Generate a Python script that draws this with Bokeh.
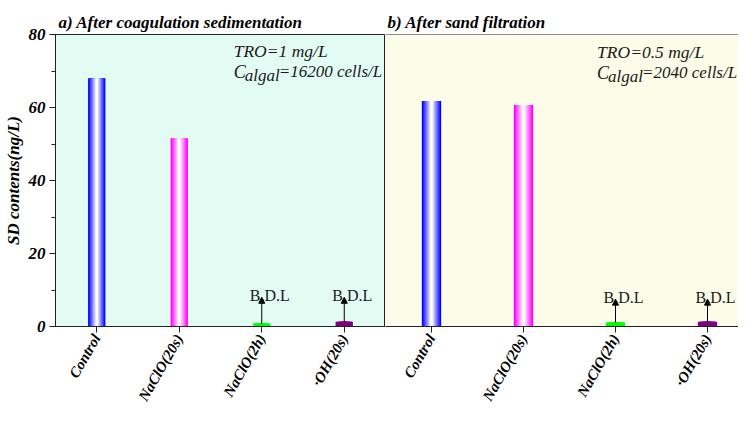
import math
from bokeh.plotting import figure
from bokeh.layouts import row
from bokeh.models import (Range1d, FixedTicker, SingleIntervalTicker, Arrow, NormalHead,
                          Label, Span, ColumnDataSource)
from bokeh.core.properties import value
from bokeh.embed import file_html
from bokeh.resources import INLINE

# ---------------- data ----------------
categories = ["Control", "NaClO(20s)", "NaClO(2h)", "·OH(20s)"]
coag_values = [68.0, 51.6, 0.8, 1.3]      # a) After coagulation sedimentation
sand_values = [61.8, 60.7, 1.1, 1.3]      # b) After sand filtration
bdl_flags = [False, False, True, True]    # below detection limit
bdl_label = "B.D.L"
y_max = 80
y_tick_interval = 20

titles = ["a) After coagulation sedimentation", "b) After sand filtration"]
tro_texts = ["TRO=1 mg/L", "TRO=0.5 mg/L"]
algal_texts = ["=16200 cells/L", "=2040 cells/L"]

# ---------------- layout / style ----------------
fig_widths = [385, 353]
cat_px = [82.5, 92.0]               # pixel spacing of categories in each panel
edge_colors = ["#0000ff", "#ff00ff", "#00ff00", "#800080"]
center_colors = ["#ffffff", "#ffffff", "#00ff00", "#800080"]
bg_colors = ["#e2fcf4", "#fcfce8"]
SERIF = "Liberation Serif"
AXIS_COLOR = "#222222"
TEXT_COLOR = "#1a1a1a"
BAR_W = 0.21
note_x = [2.16, 2.30]
note_y = [(75.5, 69.8), (75.2, 69.5)]
arrow_tip = [8.0, 7.5]


def hex2rgb(h):
    h = h.lstrip("#")
    return tuple(int(h[i:i + 2], 16) for i in (0, 2, 4))


def mix(c1, c2, t):
    a, b = hex2rgb(c1), hex2rgb(c2)
    return "#%02x%02x%02x" % tuple(int(round(a[i] + (b[i] - a[i]) * t)) for i in range(3))


def make_panel(idx, values):
    show_y = idx == 0
    left = 55 if show_y else 0
    x_end = (fig_widths[idx] - left) / cat_px[idx]
    p = figure(width=fig_widths[idx], height=410, x_range=Range1d(0, x_end),
               y_range=Range1d(0, y_max), output_backend="svg", toolbar_location=None,
               min_border_left=left, min_border_right=0, min_border_top=34, min_border_bottom=77)
    p.title.text = titles[idx]
    p.title.text_font = SERIF
    p.title.text_font_style = "bold italic"
    p.title.text_font_size = "17px"
    p.title.text_color = "black"
    p.title.offset = 3 if show_y else 2
    p.title.standoff = 5
    p.border_fill_color = "white"
    p.background_fill_color = bg_colors[idx]
    p.grid.visible = False
    if show_y:
        p.outline_line_color = AXIS_COLOR
        p.outline_line_width = 1
    else:
        p.outline_line_color = None
        p.add_layout(Span(location=y_max, dimension="width", line_color=AXIS_COLOR, line_width=1))

    xs = [i + 0.5 for i in range(len(categories))]

    # gradient bars (layers narrowing toward the centre colour)
    n = 8
    for k in range(n):
        t = k / (n - 1)
        src = ColumnDataSource(dict(x=xs, top=values,
                                    color=[mix(e, c, t) for e, c in zip(edge_colors, center_colors)]))
        p.vbar(x="x", top="top", bottom=0, width=BAR_W * (1 - k / n), source=src,
               fill_color="color", line_color=None)

    # B.D.L arrows
    bx = [x for x, f in zip(xs, bdl_flags) if f]
    by = [v for v, f in zip(values, bdl_flags) if f]
    tip = arrow_tip[idx]
    asrc = ColumnDataSource(dict(x=bx, y0=by, y1=[tip] * len(bx)))
    p.add_layout(Arrow(end=NormalHead(size=6, fill_color="black", line_color="black"),
                       x_start="x", y_start="y0", x_end="x", y_end="y1",
                       line_color="black", line_width=1, source=asrc))
    p.text(x=bx, y=[tip + 0.5] * len(bx), text=[bdl_label] * len(bx),
           text_font=value(SERIF), text_font_size="16px", text_align="center",
           text_baseline="alphabetic", x_offset=8, text_color=TEXT_COLOR)

    # condition annotations
    tx = note_x[idx]
    y1, y2 = note_y[idx]
    common = dict(text_font=SERIF, text_font_style="italic", text_color=TEXT_COLOR,
                  text_baseline="alphabetic")
    p.add_layout(Label(x=tx, y=y1, text=tro_texts[idx], text_font_size="17.5px", **common))
    p.add_layout(Label(x=tx, y=y2, text="C", text_font_size="18px", **common))
    p.add_layout(Label(x=tx, y=y2, x_offset=11, y_offset=-4, text="algal",
                       text_font_size="17px", **common))
    p.add_layout(Label(x=tx, y=y2, x_offset=45, text=algal_texts[idx],
                       text_font_size="17px", **common))

    # x axis
    xa = p.xaxis[0]
    xa.ticker = FixedTicker(ticks=xs)
    xa.major_label_overrides = {x: c for x, c in zip(xs, categories)}
    xa.major_label_orientation = math.pi / 3
    xa.major_label_text_font = SERIF
    xa.major_label_text_font_style = "bold italic"
    xa.major_label_text_font_size = "15px"
    xa.major_label_text_color = "black"
    xa.major_tick_out = 6
    xa.major_tick_in = 0
    xa.minor_tick_out = 0
    xa.axis_line_color = AXIS_COLOR
    xa.major_tick_line_color = AXIS_COLOR
    xa.major_label_standoff = 3

    ya = p.yaxis[0]
    if show_y:
        ya.ticker = SingleIntervalTicker(interval=y_tick_interval, num_minor_ticks=2)
        ya.axis_label = "SD contents(ng/L)"
        ya.axis_label_text_font = SERIF
        ya.axis_label_text_font_style = "bold italic"
        ya.axis_label_text_font_size = "17px"
        ya.axis_label_text_color = "black"
        ya.axis_label_standoff = 3
        ya.major_label_text_font = SERIF
        ya.major_label_text_font_style = "bold italic"
        ya.major_label_text_font_size = "17px"
        ya.major_label_text_color = "black"
        ya.major_tick_out = 6
        ya.major_tick_in = 0
        ya.minor_tick_out = 4
        ya.minor_tick_in = 0
        ya.axis_line_color = AXIS_COLOR
        ya.major_tick_line_color = AXIS_COLOR
        ya.minor_tick_line_color = AXIS_COLOR
        ya.major_label_standoff = 4
    else:
        ya.visible = False
    return p


p1 = make_panel(0, coag_values)
p2 = make_panel(1, sand_values)
layout = row(p1, p2, spacing=0)

open("out.html", "w").write(file_html(layout, INLINE))
